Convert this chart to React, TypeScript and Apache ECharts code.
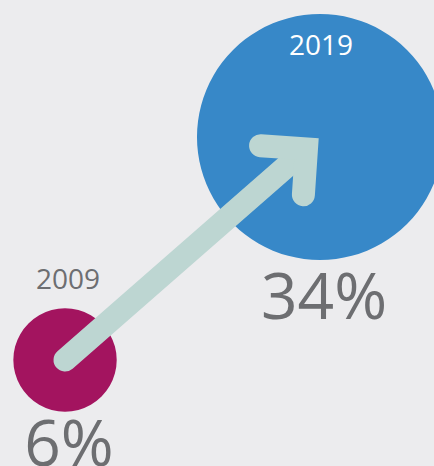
import React, { useEffect, useRef } from "react";
import * as echarts from "echarts";

const years = [2009, 2019];
const shares = [6, 34];
const shareLabels = ["6%", "34%"];
const bubbleColors = ["#a3145f", "#3788c8"];
const yearLabelColors = ["#6d6e71", "#ffffff"];

export default function App() {
  const ref = useRef<HTMLDivElement>(null);
  useEffect(() => {
    if (!ref.current) return;
    const chart = echarts.init(ref.current, null, { renderer: "svg" });
    const font = "'Open Sans', 'Noto Sans', sans-serif";
    const k = 42.2;
    const bubbleData = years.map((y, i) => ({
      value: [y, shares[i]],
      symbolSize: Math.sqrt(shares[i]) * k,
      itemStyle: { color: bubbleColors[i], opacity: 1 },
      label: {
        show: true,
        formatter: String(y),
        position: "inside",
        offset: i === 0 ? [3, -82] : [1, -93],
        color: yearLabelColors[i],
        opacity: 1,
        fontSize: 28,
        fontFamily: font,
      },
    }));
    const pctData = years.map((y, i) => ({
      value: [y, shares[i]],
      label: {
        show: true,
        formatter: shareLabels[i],
        position: "inside",
        offset: i === 0 ? [4, 82] : [4, 158],
        color: "#6d6e71",
        opacity: 1,
        fontSize: 64,
        fontFamily: font,
      },
    }));
    chart.setOption({
      animation: false,
      backgroundColor: "#ececee",
      grid: { left: 0, top: 0, right: 0, bottom: 0, containLabel: false },
      xAxis: { type: "value", min: 2006.45, max: 2023.47, show: false },
      yAxis: { type: "value", min: -7.31, max: 51.2, show: false },
      series: [
        {
          type: "scatter",
          data: bubbleData,
          symbol: "circle",
          itemStyle: { opacity: 1 },
          emphasis: { disabled: true },
          z: 1,
        },
        {
          type: "custom",
          z: 3,
          data: [[years[0], shares[0], years[1], shares[1]]],
          renderItem: (params: any, api: any) => {
            const p1 = api.coord([api.value(0), api.value(1)]);
            const p2 = api.coord([api.value(2), api.value(3)]);
            const dx = p2[0] - p1[0];
            const dy = p2[1] - p1[1];
            const len = Math.sqrt(dx * dx + dy * dy);
            const ux = dx / len;
            const uy = dy / len;
            const v = [p2[0] - ux * 18, p2[1] - uy * 18];
            const bx = -ux;
            const by = -uy;
            const c = Math.SQRT1_2;
            const armLen = 46;
            const a1 = [v[0] + armLen * (bx * c - by * c), v[1] + armLen * (bx * c + by * c)];
            const a2 = [v[0] + armLen * (bx * c + by * c), v[1] + armLen * (-bx * c + by * c)];
            const style = {
              stroke: "#bdd6d2",
              lineWidth: 23,
              lineCap: "round",
              lineJoin: "miter",
              fill: null,
            };
            return {
              type: "group",
              children: [
                {
                  type: "line",
                  shape: { x1: p1[0], y1: p1[1], x2: v[0] - ux * 4, y2: v[1] - uy * 4 },
                  style: { ...style },
                },
                {
                  type: "polyline",
                  shape: { points: [a1, v, a2] },
                  style: { ...style },
                },
              ],
            };
          },
        },
        {
          type: "scatter",
          data: pctData,
          symbolSize: 0,
          itemStyle: { color: "transparent", opacity: 1 },
          emphasis: { disabled: true },
          z: 4,
        },
      ],
    });
    return () => chart.dispose();
  }, []);
  return (
    <div
      ref={ref}
      style={{ position: "absolute", left: 0, top: 0, width: 434, height: 466 }}
    />
  );
}
